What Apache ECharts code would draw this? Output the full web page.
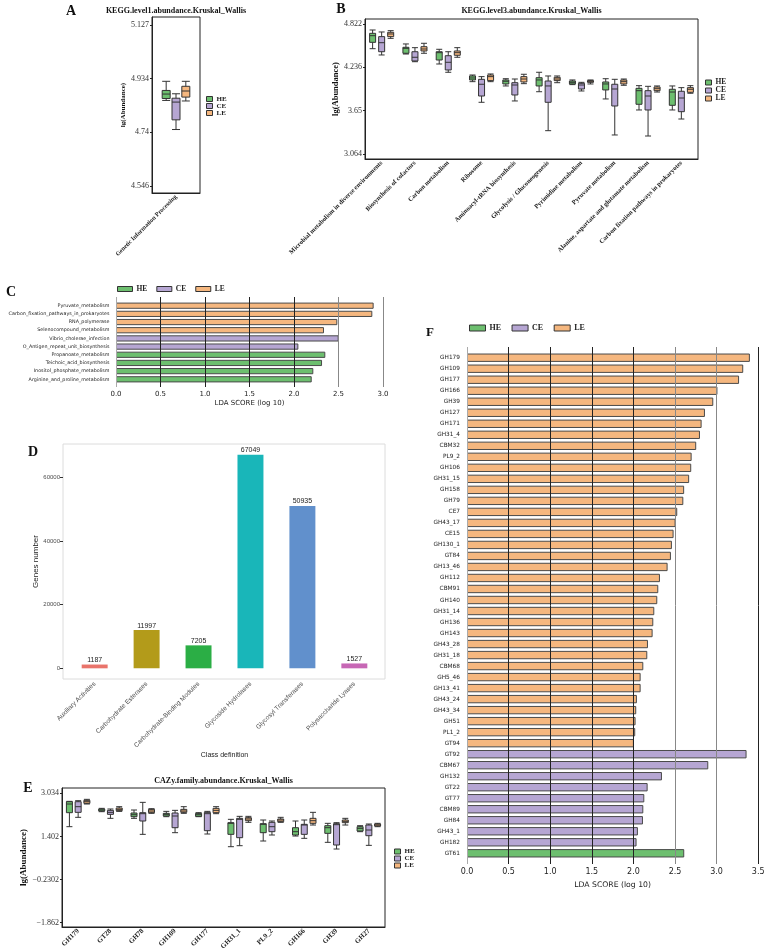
<!DOCTYPE html>
<html>
<head>
<meta charset="utf-8">
<script src="https://cdn.jsdelivr.net/npm/echarts@6/dist/echarts.min.js"></script>
<style>
html, body { margin: 0; padding: 0; background: #fff; }
#main { width: 767px; height: 951px; }
</style>
</head>
<body>
<div id="main"></div>
<script>
var groups = ['HE', 'CE', 'LE'];
var groupColors = { HE: '#6DBF6F', CE: '#B6A6D3', LE: '#F5B77F' };

// A: KEGG level1 (box = [min, q1, median, q3, max])
var keggL1Cats = ['Genetic Information Processing'];
var keggL1HE = [[4.855, 4.862, 4.878, 4.891, 4.924]];
var keggL1CE = [[4.750, 4.785, 4.849, 4.863, 4.879]];
var keggL1LE = [[4.853, 4.867, 4.889, 4.906, 4.924]];
var keggL1Ticks = [4.546, 4.74, 4.934, 5.127];

// B: KEGG level3
var keggL3Cats = ['Microbial metabolism in diverse environments', 'Biosynthesis of cofactors', 'Carbon metabolism',
  'Ribosome', 'Aminoacyl-tRNA biosynthesis', 'Glycolysis / Gluconeogenesis', 'Pyrimidine metabolism',
  'Pyruvate metabolism', 'Alanine, aspartate and glutamate metabolism', 'Carbon fixation pathways in prokaryotes'];
var keggL3HE = [
  [4.488, 4.574, 4.664, 4.696, 4.741], [4.416, 4.426, 4.493, 4.507, 4.552], [4.281, 4.335, 4.434, 4.447, 4.480],
  [4.042, 4.065, 4.092, 4.119, 4.132], [3.984, 4.011, 4.047, 4.065, 4.082], [3.906, 3.984, 4.065, 4.096, 4.169],
  [4.002, 4.011, 4.033, 4.051, 4.065], [3.808, 3.930, 4.011, 4.038, 4.082], [3.659, 3.736, 3.920, 3.952, 3.988],
  [3.659, 3.722, 3.902, 3.939, 3.984]];
var keggL3CE = [
  [4.403, 4.447, 4.569, 4.651, 4.714], [4.312, 4.322, 4.372, 4.447, 4.502], [4.169, 4.200, 4.304, 4.393, 4.447],
  [3.763, 3.848, 4.007, 4.074, 4.110], [3.781, 3.862, 3.997, 4.028, 4.078], [3.379, 3.763, 3.984, 4.051, 4.119],
  [3.916, 3.943, 3.997, 4.020, 4.033], [3.321, 3.713, 3.943, 4.007, 4.074], [3.307, 3.659, 3.848, 3.920, 3.979],
  [3.537, 3.636, 3.821, 3.912, 3.961]];
var keggL3LE = [
  [4.628, 4.651, 4.687, 4.710, 4.732], [4.426, 4.457, 4.484, 4.515, 4.561], [4.372, 4.399, 4.434, 4.457, 4.502],
  [4.042, 4.056, 4.110, 4.132, 4.146], [4.015, 4.038, 4.078, 4.110, 4.142], [4.028, 4.056, 4.078, 4.101, 4.119],
  [4.011, 4.033, 4.047, 4.056, 4.065], [3.993, 4.011, 4.042, 4.065, 4.078], [3.902, 3.920, 3.947, 3.970, 3.984],
  [3.885, 3.898, 3.939, 3.961, 3.988]];
var keggL3Ticks = [3.064, 3.65, 4.236, 4.822];

// C: LEfSe KEGG
var cTerms = ['Pyruvate_metabolism', 'Carbon_fixation_pathways_in_prokaryotes', 'RNA_polymerase',
  'Selenocompound_metabolism', 'Vibrio_cholerae_infection', 'O_Antigen_repeat_unit_biosynthesis',
  'Propanoate_metabolism', 'Teichoic_acid_biosynthesis', 'Inositol_phosphate_metabolism',
  'Arginine_and_proline_metabolism'];
var cScores = [2.895, 2.88, 2.487, 2.337, 2.502, 2.049, 2.352, 2.315, 2.217, 2.199];
var cGroups = ['LE', 'LE', 'LE', 'LE', 'CE', 'CE', 'HE', 'HE', 'HE', 'HE'];

// D: CAZy classes
var cazyClasses = ['Auxiliary Activities', 'Carbohydrate Esterases', 'Carbohydrate-Binding Modules',
  'Glycoside Hydrolases', 'Glycosyl Transferases', 'Polysaccharide Lyases'];
var geneCounts = [1187, 11997, 7205, 67049, 50935, 1527];
var geneTicks = [0, 20000, 40000, 60000];
var classColors = ['#E9746B', '#B39B1A', '#2BAE45', '#19B6B9', '#6190CC', '#C767B5'];

// E: CAZy family
var cazyFamilies = ['GH179', 'GT28', 'GH78', 'GH109', 'GH177', 'GH31_1', 'PL9_2', 'GH166', 'GH39', 'GH27'];
var cazyHE = [
  [1.771, 2.301, 2.629, 2.717, 2.730], [2.339, 2.364, 2.402, 2.440, 2.465], [2.087, 2.150, 2.225, 2.289, 2.402],
  [2.150, 2.175, 2.238, 2.276, 2.351], [2.150, 2.162, 2.225, 2.276, 2.301], [1.014, 1.481, 1.898, 1.923, 2.049],
  [1.229, 1.544, 1.860, 1.885, 2.024], [1.418, 1.456, 1.582, 1.733, 1.986], [1.179, 1.519, 1.733, 1.809, 1.898],
  [1.582, 1.607, 1.708, 1.771, 1.809]];
var cazyCE = [
  [2.125, 2.314, 2.528, 2.717, 2.755], [2.087, 2.238, 2.314, 2.389, 2.440], [1.481, 1.986, 2.263, 2.301, 2.692],
  [1.544, 1.733, 2.175, 2.289, 2.389], [1.494, 1.620, 2.263, 2.314, 2.351], [1.052, 1.355, 2.049, 2.087, 2.162],
  [1.456, 1.582, 1.771, 1.936, 1.986], [1.330, 1.481, 1.834, 1.860, 2.024], [0.926, 1.078, 1.847, 1.885, 1.923],
  [1.065, 1.431, 1.645, 1.834, 1.872]];
var cazyLE = [
  [2.629, 2.654, 2.717, 2.768, 2.806], [2.351, 2.377, 2.427, 2.478, 2.528], [2.276, 2.301, 2.364, 2.427, 2.452],
  [2.276, 2.314, 2.364, 2.427, 2.528], [2.263, 2.301, 2.389, 2.465, 2.528], [1.936, 1.998, 2.062, 2.112, 2.162],
  [1.936, 1.961, 2.024, 2.062, 2.125], [1.834, 1.898, 1.998, 2.087, 2.314], [1.834, 1.923, 1.973, 2.024, 2.087],
  [1.771, 1.796, 1.834, 1.872, 1.898]];
var cazyTicks = [-1.862, -0.2302, 1.402, 3.034];

// F: LEfSe CAZy
var fTerms = ['GH179', 'GH109', 'GH177', 'GH166', 'GH39', 'GH127', 'GH171', 'GH31_4', 'CBM32', 'PL9_2', 'GH106',
  'GH31_15', 'GH158', 'GH79', 'CE7', 'GH43_17', 'CE15', 'GH130_1', 'GT84', 'GH13_46', 'GH112', 'CBM91', 'GH140',
  'GH31_14', 'GH136', 'GH143', 'GH43_28', 'GH31_18', 'CBM68', 'GH5_46', 'GH13_41', 'GH43_24', 'GH43_34', 'GH51',
  'PL1_2', 'GT94', 'GT92', 'CBM67', 'GH132', 'GT22', 'GT77', 'CBM89', 'GH84', 'GH43_1', 'GH182', 'GT61'];
var fScores = [3.40, 3.32, 3.27, 3.01, 2.96, 2.86, 2.82, 2.80, 2.755, 2.70, 2.695, 2.67, 2.61, 2.60, 2.527, 2.507,
  2.483, 2.463, 2.451, 2.411, 2.319, 2.299, 2.287, 2.251, 2.239, 2.231, 2.175, 2.167, 2.119, 2.087, 2.087, 2.042,
  2.034, 2.026, 2.022, 2.006, 3.36, 2.90, 2.343, 2.171, 2.131, 2.119, 2.115, 2.054, 2.038, 2.611];
var fGroups = ['LE', 'LE', 'LE', 'LE', 'LE', 'LE', 'LE', 'LE', 'LE', 'LE', 'LE', 'LE', 'LE', 'LE', 'LE', 'LE',
  'LE', 'LE', 'LE', 'LE', 'LE', 'LE', 'LE', 'LE', 'LE', 'LE', 'LE', 'LE', 'LE', 'LE', 'LE', 'LE', 'LE', 'LE',
  'LE', 'LE', 'CE', 'CE', 'CE', 'CE', 'CE', 'CE', 'CE', 'CE', 'CE', 'HE'];

var serif = "'Liberation Serif', 'Times New Roman', serif";
var sans = "'DejaVu Sans', sans-serif";
var arial = "'Liberation Sans', Arial, sans-serif";

var myChart = echarts.init(document.getElementById('main'), null, { renderer: 'canvas' });

var minusFmt = function (v) { return String(v).replace('-', '\u2212'); };

var boxYAxis = function (gi, min, max, ticks, name, gap, nameSize) {
  return {
    gridIndex: gi, type: 'value', min: min, max: max,
    axisLine: { show: true, onZero: false, lineStyle: { color: '#222' } },
    axisTick: { show: true, length: 2, customValues: ticks, lineStyle: { color: '#222' } },
    axisLabel: { customValues: ticks, formatter: minusFmt, fontSize: 8, fontFamily: serif, color: '#333', margin: 3 },
    splitLine: { show: false },
    name: name, nameLocation: 'middle', nameGap: gap,
    nameTextStyle: { fontSize: nameSize, fontWeight: 'bold', fontFamily: serif, color: '#111' }
  };
};

var catXAxis = function (gi, data, size) {
  return {
    gridIndex: gi, type: 'category', data: data,
    axisLine: { onZero: false, lineStyle: { color: '#222' } },
    axisTick: { alignWithLabel: true, length: 2, lineStyle: { color: '#222' } },
    axisLabel: { rotate: 45, margin: 3, fontSize: size, fontWeight: 'bold', fontFamily: serif, color: '#222', interval: 0 }
  };
};

var ldaAxis = function (gi, max, colors, gap, size, nameSize) {
  return {
    gridIndex: gi, type: 'value', min: 0, max: max, interval: 0.5, z: 10,
    axisLine: { show: false }, axisTick: { show: false },
    splitLine: { show: true, lineStyle: { color: colors, width: 1 } },
    axisLabel: { formatter: function (v) { return v.toFixed(1); }, fontSize: size, fontFamily: sans, color: '#222', margin: 4 },
    name: 'LDA SCORE (log 10)', nameLocation: 'middle', nameGap: gap,
    nameTextStyle: { fontSize: nameSize, fontFamily: sans, color: '#222' }
  };
};

var termYAxis = function (gi, data, size, margin) {
  return {
    gridIndex: gi, type: 'category', data: data, inverse: true,
    axisLine: { show: false }, axisTick: { show: false },
    axisLabel: { fontSize: size, fontFamily: sans, color: '#222', margin: margin, interval: 0 }
  };
};

var legendItems = function (border) {
  return groups.map(function (g) {
    return { name: g, icon: 'rect', itemStyle: { color: groupColors[g], borderColor: border, borderWidth: 1 } };
  });
};

var legend = function (left, top, orient, w, h, gap, size) {
  return {
    left: left, top: top, orient: orient, padding: 0, itemWidth: w, itemHeight: h, itemGap: gap,
    selectedMode: false, data: legendItems('#333'),
    textStyle: { fontSize: size, fontWeight: 'bold', fontFamily: serif, color: '#222', padding: [0, 0, 0, -1] }
  };
};

var series = [];

var boxSeries = function (name, data, idx, width) {
  return {
    type: 'boxplot', name: name, xAxisIndex: idx, yAxisIndex: idx, data: data,
    boxWidth: [width, width], silent: true,
    itemStyle: { color: groupColors[name], borderColor: '#333', borderWidth: 1 }
  };
};
series.push(boxSeries('HE', keggL1HE, 1, 8), boxSeries('CE', keggL1CE, 1, 8), boxSeries('LE', keggL1LE, 1, 8));
series.push(boxSeries('HE', keggL3HE, 2, 6), boxSeries('CE', keggL3CE, 2, 6), boxSeries('LE', keggL3LE, 2, 6));
series.push(boxSeries('HE', cazyHE, 6, 6), boxSeries('CE', cazyCE, 6, 6), boxSeries('LE', cazyLE, 6, 6));

var ldaSeries = function (scores, grp, idx) {
  groups.forEach(function (g) {
    series.push({
      type: 'bar', name: g, xAxisIndex: idx, yAxisIndex: idx, barWidth: '76%', barGap: '-100%', silent: true,
      data: scores.map(function (v, i) { return grp[i] === g ? v : '-'; }),
      itemStyle: { color: groupColors[g], borderColor: '#4a4a4a', borderWidth: 1 }
    });
  });
};
ldaSeries(cScores, cGroups, 3);
ldaSeries(fScores, fGroups, 7);

series.push({
  type: 'bar', name: 'genes', xAxisIndex: 9, yAxisIndex: 9, barWidth: '50%', silent: true,
  data: geneCounts.map(function (v, i) { return { value: v, itemStyle: { color: classColors[i] } }; }),
  label: { show: true, position: 'top', distance: 1, fontSize: 7, fontFamily: arial, color: '#222' }
});

var text = function (t, x, y, size, weight) {
  return {
    type: 'text', x: x, y: y, silent: true,
    style: {
      text: t, fill: '#111', font: weight + ' ' + size + 'px ' + serif,
      align: 'center', verticalAlign: 'middle', textAlign: 'center', textVerticalAlign: 'middle'
    }
  };
};

var option = {
  animation: false,
  backgroundColor: '#fff',
  graphic: [
    text('A', 71, 11, 14, 'bold'),
    text('B', 341, 9, 14, 'bold'),
    text('C', 11, 292, 14, 'bold'),
    text('D', 33, 452, 14, 'bold'),
    text('E', 28, 788, 14, 'bold'),
    text('F', 430, 333, 13, 'bold'),
    text('KEGG.level1.abundance.Kruskal_Wallis', 176, 11, 8, 'bold'),
    text('KEGG.level3.abundance.Kruskal_Wallis', 531.5, 10.5, 8, 'bold'),
    text('CAZy.family.abundance.Kruskal_Wallis', 223.5, 781, 8, 'bold')
  ],
  legend: [
    legend(206, 95.5, 'vertical', 6, 5, 0, 7),
    legend(705, 78.5, 'vertical', 6, 5, 0, 7.5),
    legend(117, 285, 'horizontal', 15, 5, 9, 7.5),
    legend(469, 324, 'horizontal', 16, 6, 10.5, 8),
    legend(394, 848, 'vertical', 6, 5, 0, 7)
  ],
  grid: [
    { left: 152, top: 17, width: 48, height: 176, show: true, borderColor: '#222', borderWidth: 1, outerBoundsMode: 'none' },
    { left: 158, top: 17, width: 36, height: 176, outerBoundsMode: 'none' },
    { left: 365, top: 19, width: 333, height: 140, show: true, borderColor: '#222', borderWidth: 1, outerBoundsMode: 'none' },
    { left: 116, top: 301.6, width: 267, height: 81.8, outerBoundsMode: 'none' },
    { left: 116, top: 297, width: 267, height: 90, outerBoundsMode: 'none' },
    { left: 63, top: 444, width: 322, height: 235, show: true, borderColor: '#dcdcdc', borderWidth: 1, outerBoundsMode: 'none' },
    { left: 62, top: 788, width: 323, height: 139, show: true, borderColor: '#222', borderWidth: 1, outerBoundsMode: 'none' },
    { left: 467, top: 352.2, width: 291.2, height: 506.6, outerBoundsMode: 'none' },
    { left: 467, top: 347, width: 291.2, height: 517, outerBoundsMode: 'none' },
    { left: 68.7, top: 444, width: 311.6, height: 235, outerBoundsMode: 'none' }
  ],
  xAxis: [
    catXAxis(0, keggL1Cats, 6.2),
    { gridIndex: 1, type: 'category', data: keggL1Cats, show: false },
    catXAxis(2, keggL3Cats, 6.5),
    { gridIndex: 3, type: 'value', min: 0, max: 3, show: false },
    ldaAxis(4, 3, ['#aaa', '#222', '#222', '#222', '#222', '#888', '#888'], 12.5, 7, 7),
    { gridIndex: 5, type: 'category', data: cazyClasses, show: false },
    catXAxis(6, cazyFamilies, 7),
    { gridIndex: 7, type: 'value', min: 0, max: 3.5, show: false },
    ldaAxis(8, 3.5, ['#aaa', '#222', '#222', '#222', '#222', '#888', '#888', '#222'], 16, 8, 7.7),
    {
      gridIndex: 9, type: 'category', data: cazyClasses,
      axisLine: { show: false, onZero: false },
      axisTick: { alignWithLabel: true, length: 3, lineStyle: { color: '#333' } },
      axisLabel: { rotate: 45, fontSize: 6.5, color: '#4d4d4d', fontFamily: arial, margin: 4, interval: 0 },
      name: 'Class definition', nameLocation: 'middle', nameGap: 63,
      nameTextStyle: { fontSize: 7, color: '#222', fontFamily: arial }
    }
  ],
  yAxis: [
    boxYAxis(0, 4.521, 5.156, keggL1Ticks, 'lg(Abundance)', 22.5, 7),
    { gridIndex: 1, type: 'value', min: 4.521, max: 5.156, show: false },
    boxYAxis(2, 2.996, 4.8896, keggL3Ticks, 'lg(Abundance)', 23.5, 8.5),
    termYAxis(3, cTerms, 4.8, 6.5),
    { gridIndex: 4, type: 'value', min: 0, max: 1, show: false },
    {
      gridIndex: 5, type: 'value', min: -3352, max: 70401,
      axisLine: { show: false },
      axisTick: { show: true, length: 3, customValues: geneTicks, lineStyle: { color: '#333' } },
      axisLabel: { customValues: geneTicks, formatter: function (v) { return String(v); },
        fontSize: 6, fontFamily: arial, color: '#4d4d4d', margin: 3 },
      splitLine: { show: false },
      name: 'Genes number', nameLocation: 'middle', nameGap: 20,
      nameTextStyle: { fontSize: 8, fontFamily: arial, color: '#222' }
    },
    boxYAxis(6, -2.025, 3.235, cazyTicks, 'lg(Abundance)', 33.5, 9),
    termYAxis(7, fTerms, 5.8, 7),
    { gridIndex: 8, type: 'value', min: 0, max: 1, show: false },
    { gridIndex: 9, type: 'value', min: -3352, max: 70401, show: false }
  ],
  series: series
};

myChart.setOption(option);
</script>
</body>
</html>
